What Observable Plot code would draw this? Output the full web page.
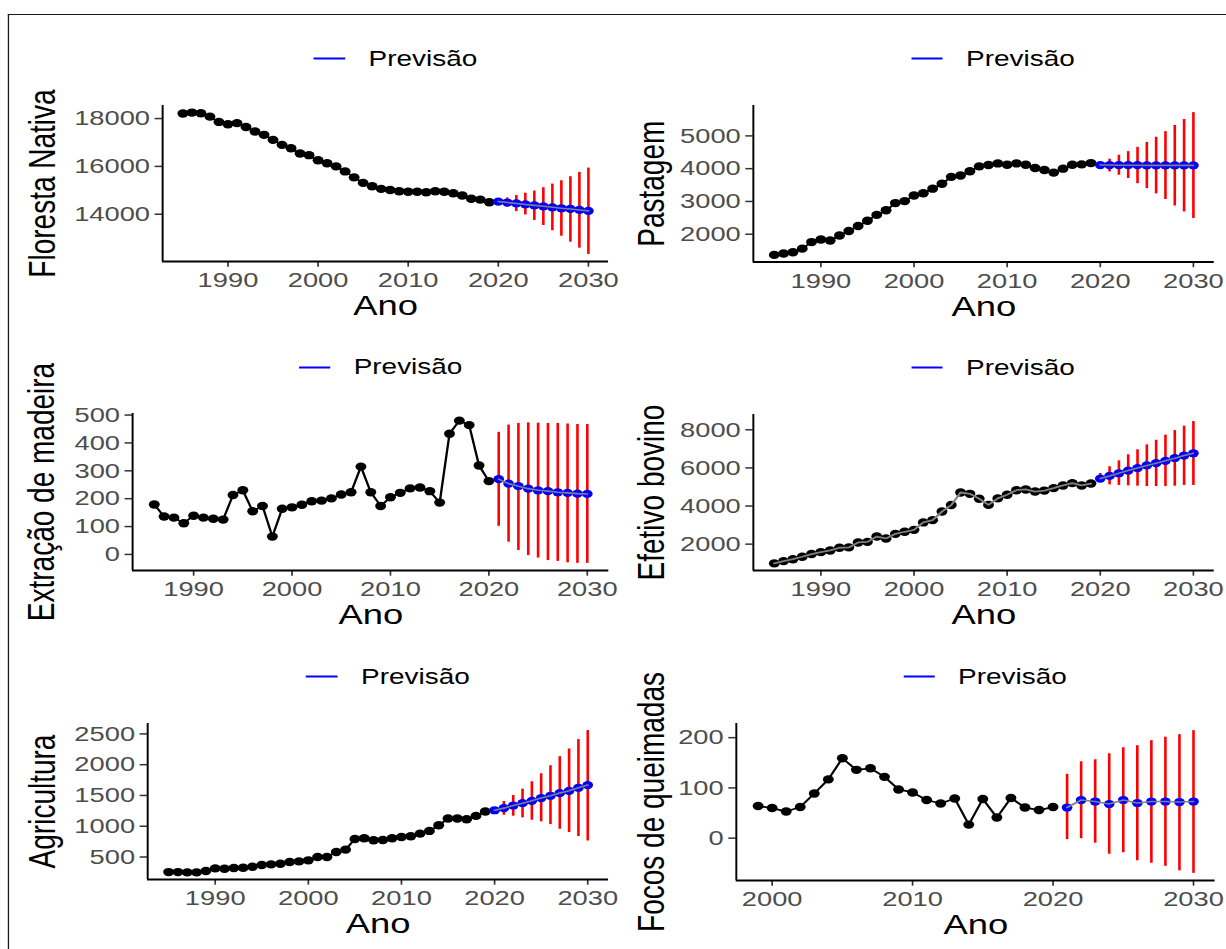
<!DOCTYPE html>
<html lang="pt">
<head>
<meta charset="utf-8">
<script src="https://cdn.jsdelivr.net/npm/d3@7"></script>
<script src="https://cdn.jsdelivr.net/npm/@observablehq/plot@0.6"></script>
<style>
  html, body { margin: 0; padding: 0; background: #fff; overflow: hidden; }
  #figura {
    position: relative; width: 943.08px; height: 949px;
    transform: scaleX(1.3); transform-origin: 0 0;
    font-family: "Liberation Sans", Arial, Helvetica, sans-serif;
  }
  .painel { position: absolute; }
  .legenda {
    position: absolute; display: flex; align-items: center;
    transform: translate(-50%, -50%); white-space: nowrap;
    font-size: 21.5px; color: #000;
  }
  .legenda svg { margin-right: 17.7px; display: block; }
  .moldura {
    position: absolute; left: 6.3px; top: 14px; width: 1000px; height: 1000px;
    border-left: 1.2px solid #1a1a1a; border-top: 1.6px solid #1a1a1a;
  }
</style>
</head>
<body>
<div id="figura"></div>
<script>
// Anos das séries observadas
const anos1985a2019 = [1985,1986,1987,1988,1989,1990,1991,1992,1993,1994,1995,1996,1997,1998,1999,2000,2001,2002,2003,2004,2005,2006,2007,2008,2009,2010,2011,2012,2013,2014,2015,2016,2017,2018,2019];
const anos1986a2020 = [1986,1987,1988,1989,1990,1991,1992,1993,1994,1995,1996,1997,1998,1999,2000,2001,2002,2003,2004,2005,2006,2007,2008,2009,2010,2011,2012,2013,2014,2015,2016,2017,2018,2019,2020];
const anos1999a2020 = [1999,2000,2001,2002,2003,2004,2005,2006,2007,2008,2009,2010,2011,2012,2013,2014,2015,2016,2017,2018,2019,2020];
// Anos das previsões
const anosPrev2020 = [2020,2021,2022,2023,2024,2025,2026,2027,2028,2029,2030];
const anosPrev2021 = [2021,2022,2023,2024,2025,2026,2027,2028,2029,2030];

// Floresta Nativa
const florestaValores = [18210,18250,18220,18080,17860,17760,17810,17650,17460,17320,17110,16900,16760,16540,16470,16260,16130,16000,15790,15540,15310,15170,15060,15010,14960,14940,14940,14920,14960,14940,14880,14780,14650,14610,14500];
const florestaPrev = [14530,14490,14450,14410,14370,14330,14290,14250,14220,14180,14140];
const florestaInf  = [14400,14290,14110,13970,13740,13530,13310,13080,12830,12580,12320];
const florestaSup  = [14650,14680,14780,14880,14970,15110,15260,15400,15570,15750,15930];

// Pastagem
const pastagemValores = [1370,1410,1450,1560,1760,1840,1810,1960,2100,2250,2410,2590,2730,2950,3010,3180,3250,3390,3540,3750,3790,3920,4070,4110,4160,4120,4160,4120,4020,3960,3880,4000,4120,4130,4170];
const pastagemPrev = [4110,4110,4105,4105,4105,4100,4100,4100,4100,4100,4100];
const pastagemInf  = [4050,3900,3800,3700,3540,3390,3230,3060,2860,2680,2480];
const pastagemSup  = [4170,4290,4410,4520,4650,4800,4960,5130,5320,5500,5710];

// Extração de madeira
const madeiraValores = [179,136,132,112,139,132,128,125,213,230,155,174,64,164,169,178,191,193,201,215,223,315,223,174,205,221,237,240,227,186,433,480,464,319,263];
const madeiraPrev = [270,254,245,236,230,227,223,221,218,217];
const madeiraInf  = [101,44,14,-4,-13,-22,-25,-30,-32,-32];
const madeiraSup  = [438,464,470,472,471,470,470,468,466,466];

// Efetivo bovino
const bovinoValores = [990,1110,1210,1340,1480,1580,1670,1810,1830,2090,2120,2400,2300,2540,2650,2750,3140,3260,3710,4050,4710,4640,4380,4060,4400,4590,4830,4870,4760,4810,4940,5080,5200,5080,5180];
const bovinoPrev = [5440,5580,5720,5860,5990,6130,6250,6370,6510,6650,6770];
const bovinoInf  = [5230,5110,5080,5060,5040,5020,5020,5020,5040,5080,5080];
const bovinoSup  = [5710,6060,6370,6690,6950,7210,7450,7720,7960,8190,8430];

// Agricultura
const agriculturaValores = [255,255,250,250,272,315,310,321,326,342,370,380,391,418,429,446,500,500,582,620,793,804,772,777,804,826,837,880,924,1016,1125,1125,1114,1168,1239];
const agriculturaPrev = [1260,1294,1337,1375,1413,1457,1495,1538,1576,1625,1668];
const agriculturaInf  = [1207,1179,1163,1136,1098,1071,1027,951,897,832,761];
const agriculturaSup  = [1304,1402,1500,1603,1723,1853,1984,2130,2255,2408,2554];

// Focos de queimadas
const focosValores = [64,60,53,62,89,117,159,136,139,122,97,91,76,69,79,27,78,41,80,61,56,62];
const focosPrev = [61,76,73,68,76,70,73,73,72,73];
const focosInf  = [-3,-1,-10,-32,-29,-45,-50,-56,-65,-70];
const focosSup  = [127,152,156,168,180,184,194,201,206,214];

// Marcas dos eixos
const ticksAno = [1990, 2000, 2010, 2020, 2030];
const ticksAnoFocos = [2000, 2010, 2020, 2030];
const ticksFloresta = [14000, 16000, 18000];
const ticksPastagem = [2000, 3000, 4000, 5000];
const ticksMadeira = [0, 100, 200, 300, 400, 500];
const ticksBovino = [2000, 4000, 6000, 8000];
const ticksAgricultura = [500, 1000, 1500, 2000, 2500];
const ticksFocos = [0, 100, 200];

const CW = 943.08 / 2; // largura de cada célula da grade 3x2
const fonte = '"Liberation Sans", Arial, Helvetica, sans-serif';
const expandir = ([a, b]) => [a - 0.05 * (b - a), b + 0.05 * (b - a)];

const paineis = [
  {titulo: "Floresta Nativa", anos: anos1985a2019, valores: florestaValores, anosPrev: anosPrev2020,
   prev: florestaPrev, inf: florestaInf, sup: florestaSup, ticksX: ticksAno, ticksY: ticksFloresta,
   col: 0, topo: 104.5, altura: 156, margemEsq: 124.6, margemDir: 3.8, tituloX: 32.5, linhaCinza: false},
  {titulo: "Pastagem", anos: anos1985a2019, valores: pastagemValores, anosPrev: anosPrev2020,
   prev: pastagemPrev, inf: pastagemInf, sup: pastagemSup, ticksX: ticksAno, ticksY: ticksPastagem,
   col: 1, topo: 104.5, altura: 156.5, margemEsq: 107.0, margemDir: 9.9, tituloX: 29, linhaCinza: false},
  {titulo: "Extração de madeira", anos: anos1986a2020, valores: madeiraValores, anosPrev: anosPrev2021,
   prev: madeiraPrev, inf: madeiraInf, sup: madeiraSup, ticksX: ticksAno, ticksY: ticksMadeira,
   col: 0, topo: 413, altura: 157, margemEsq: 101.5, margemDir: 3.6, tituloX: 32, linhaCinza: false},
  {titulo: "Efetivo bovino", anos: anos1985a2019, valores: bovinoValores, anosPrev: anosPrev2020,
   prev: bovinoPrev, inf: bovinoInf, sup: bovinoSup, ticksX: ticksAno, ticksY: ticksBovino,
   col: 1, topo: 413.5, altura: 156, margemEsq: 107.0, margemDir: 9.9, tituloX: 29, linhaCinza: true},
  {titulo: "Agricultura", anos: anos1985a2019, valores: agriculturaValores, anosPrev: anosPrev2020,
   prev: agriculturaPrev, inf: agriculturaInf, sup: agriculturaSup, ticksX: ticksAno, ticksY: ticksAgricultura,
   col: 0, topo: 722.5, altura: 156, margemEsq: 113.1, margemDir: 3.8, tituloX: 32.5, linhaCinza: false},
  {titulo: "Focos de queimadas", anos: anos1999a2020, valores: focosValores, anosPrev: anosPrev2021,
   prev: focosPrev, inf: focosInf, sup: focosSup, ticksX: ticksAnoFocos, ticksY: ticksFocos,
   col: 1, topo: 722.5, altura: 157, margemEsq: 93.9, margemDir: 9.2, tituloX: 29, linhaCinza: false}
];

const figura = document.getElementById("figura");

function desenhar(p) {
  const hist = p.anos.map((a, i) => ({ano: a, valor: p.valores[i]}));
  const prev = p.anosPrev.map((a, i) => ({ano: a, valor: p.prev[i], inf: p.inf[i], sup: p.sup[i]}));
  const xDom = expandir(d3.extent([...p.anos, ...p.anosPrev]));
  const yDom = expandir(d3.extent([...p.valores, ...p.prev, ...p.inf, ...p.sup]));
  const mt = 12, mb = 75;

  const marcas = [
    Plot.axisX({ticks: p.ticksX, tickFormat: "d", tickSize: 5.7, tickPadding: 5, fontSize: 21,
                fill: "#4d4d4d", stroke: "#333", strokeWidth: 1.3, label: null}),
    Plot.axisY({ticks: p.ticksY, tickFormat: "d", tickSize: 5.7, tickPadding: 4, fontSize: 21,
                fill: "#4d4d4d", stroke: "#333", strokeWidth: 1.5, label: null}),
    Plot.ruleY([yDom[0]], {stroke: "black", strokeWidth: 1.8}),
    Plot.ruleX([xDom[0]], {stroke: "black", strokeWidth: 1.5})
  ];
  // série observada: linha + pontos pretos
  const linhaHist = Plot.line(hist, {x: "ano", y: "valor", stroke: p.linhaCinza ? "#808080" : "black", strokeWidth: 1.8});
  const pontosHist = Plot.dot(hist, {x: "ano", y: "valor", r: 4.2, fill: "black"});
  if (p.linhaCinza) marcas.push(pontosHist, linhaHist);
  else marcas.push(linhaHist, pontosHist);
  // previsão: intervalos vermelhos, pontos azuis e linha cinza
  marcas.push(
    Plot.ruleX(prev, {x: "ano", y1: "inf", y2: "sup", stroke: "#ff0000", strokeWidth: 2}),
    Plot.dot(prev, {x: "ano", y: "valor", r: 4.1, fill: "#0000ff"}),
    Plot.line(prev, {x: "ano", y: "valor", stroke: "#808080", strokeWidth: 1.6}),
    Plot.text([p.titulo], {frameAnchor: "left", textAnchor: "middle", lineAnchor: "middle", rotate: -90,
                           dx: p.tituloX - p.margemEsq, fontSize: 28, fill: "black"}),
    Plot.text(["Ano"], {frameAnchor: "bottom", textAnchor: "middle", lineAnchor: "middle", dy: 45,
                        fontSize: 28, fill: "black"})
  );

  const svg = Plot.plot({
    width: CW, height: mt + p.altura + mb,
    marginTop: mt, marginBottom: mb, marginLeft: p.margemEsq, marginRight: p.margemDir,
    style: {background: "transparent", overflow: "visible", fontFamily: fonte, maxWidth: "none"},
    x: {domain: xDom},
    y: {domain: yDom},
    marks: marcas
  });

  const div = document.createElement("div");
  div.className = "painel";
  div.style.left = (p.col * CW) + "px";
  div.style.top = (p.topo - mt) + "px";
  div.style.width = CW + "px";
  div.appendChild(svg);
  figura.appendChild(div);

  // legenda "Previsão" acima do painel
  const leg = document.createElement("div");
  leg.className = "legenda";
  leg.style.left = (p.col * CW + (p.margemEsq + CW - p.margemDir) / 2 + 8) + "px";
  leg.style.top = (p.topo - 46) + "px";
  leg.innerHTML = '<svg width="24.6" height="6"><line x1="0" x2="24.6" y1="3" y2="3" stroke="#0000ff" stroke-width="2"/></svg><span>Previsão</span>';
  figura.appendChild(leg);
}

paineis.forEach(desenhar);

const moldura = document.createElement("div");
moldura.className = "moldura";
figura.appendChild(moldura);
</script>
</body>
</html>
